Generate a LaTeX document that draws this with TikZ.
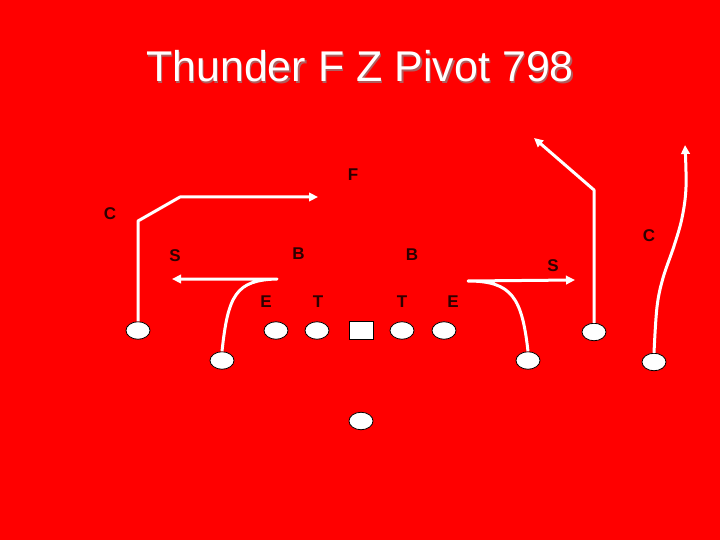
\documentclass[tikz,border=0pt]{standalone}
\usepackage{fontspec}
\setmainfont{Liberation Sans}
\newfontfamily\labfont{Liberation Sans Bold}
\usetikzlibrary{arrows.meta,shapes.geometric}
\definecolor{bg}{RGB}{255,0,0}
\definecolor{lbl}{RGB}{45,0,0}
\definecolor{shadow}{RGB}{175,95,95}
\begin{document}
\begin{tikzpicture}[x=1pt,y=-1pt,
  player/.style={ellipse,draw=black,fill=white,line width=0.8pt,minimum width=24pt,minimum height=17.5pt,inner sep=0pt},
  snapper/.style={rectangle,draw=black,fill=white,line width=0.8pt,minimum width=24pt,minimum height=18pt,inner sep=0pt},
  route/.style={white,line width=3pt,line join=round},
  arr/.style={-{Triangle[length=9pt,width=8.5pt]}},
  lab/.style={text=lbl,font=\labfont\fontsize{17}{17}\selectfont,inner sep=0pt,anchor=center},
  ttl/.style={font=\fontsize{43}{43}\selectfont,inner sep=0pt,anchor=base}]
\fill[bg] (0,0) rectangle (720,540);
% title
\node[ttl,text=shadow] (titleshadow) at (361.5,83.5) {Thunder F Z Pivot 798};
\node[ttl,text=white] (title) at (360,82) {Thunder F Z Pivot 798};
% players
\node[player] (cL) at (138,330.5) {};
\node[player] (eL) at (222,360.5) {};
\node[player] (eLn) at (276,330.5) {};
\node[player] (tL) at (317,330.5) {};
\node[snapper] (ctr) at (361,330.5) {};
\node[player] (tR) at (402,330.5) {};
\node[player] (eR) at (444,330.5) {};
\node[player] (sR) at (528,360.5) {};
\node[player] (r1) at (594,332) {};
\node[player] (cR) at (654,362) {};
\node[player] (qb) at (361,421) {};
% defense labels
\node[lab] (F) at (353,175) {F};
\node[lab] (CL) at (110,214) {C};
\node[lab] (CR) at (649,236) {C};
\node[lab] (SL) at (175,256) {S};
\node[lab] (BL) at (298.5,254) {B};
\node[lab] (BR) at (412,254.5) {B};
\node[lab] (SR) at (553,265.5) {S};
\node[lab] (EL) at (266,302) {E};
\node[lab] (TL) at (318,302) {T};
\node[lab] (TR) at (402,302) {T};
\node[lab] (ER) at (453,302) {E};
% routes
\coordinate (c1a) at (138,221);
\coordinate (c1b) at (180,197);
\coordinate (c1e) at (318,197);
\draw[route,arr] (cL.north) -- (c1a) -- (c1b) -- (c1e);
\coordinate (e1p) at (277,279);
\coordinate (e1e) at (172,279);
\draw[route,arr] (eL.north) .. controls (228,295) and (236,280) .. (e1p) -- (e1e);
\coordinate (s1p) at (468,281);
\coordinate (s1e) at (575,280);
\draw[route,arr] (sR.north) .. controls (522,298) and (512,281) .. (s1p) -- (s1e);
\coordinate (r1a) at (594,190);
\coordinate (r1e) at (534,138);
\draw[route,arr] (r1.north) -- (r1a) -- (r1e);
\draw[route,arr] plot[smooth,tension=0.6] coordinates {(cR.north) (657,307) (663,278) (674,246) (682,218) (686,187) (685,145)};
\end{tikzpicture}
\end{document}
